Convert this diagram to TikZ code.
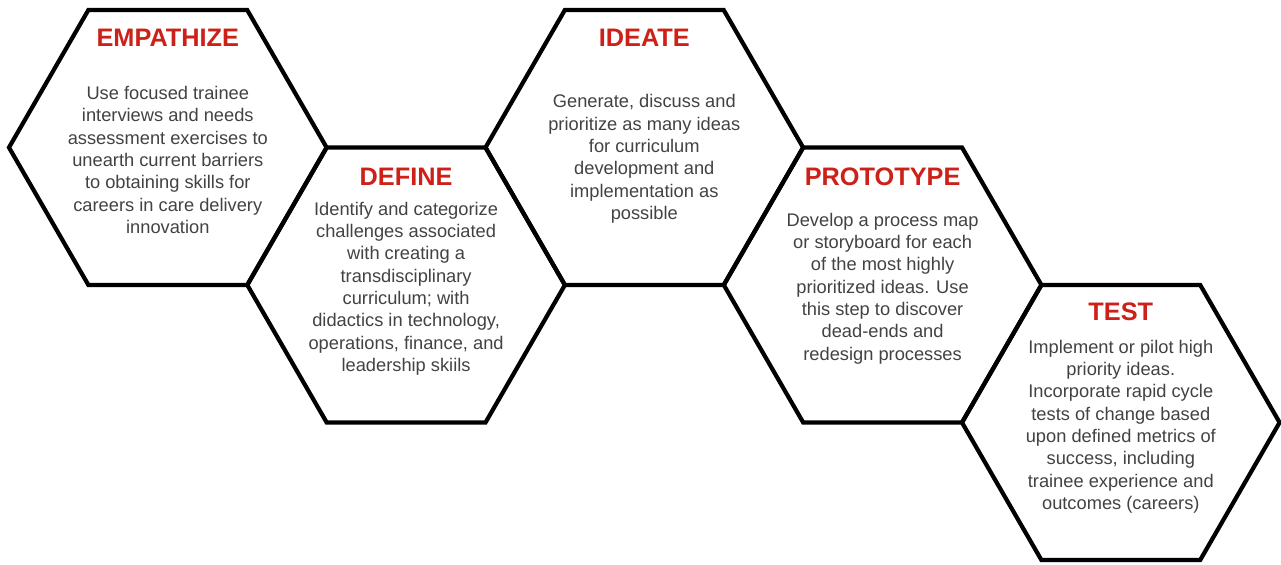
\documentclass[tikz,border=0pt]{standalone}
\usepackage{fontspec}
\setmainfont{Liberation Sans}
\usepackage{xcolor}
\usepackage{tikz}
\usetikzlibrary{shapes.geometric, positioning}
\definecolor{stepred}{RGB}{204,32,24}
\definecolor{bodygray}{RGB}{66,66,66}
\tikzset{
    hexcell/.style={regular polygon, regular polygon sides=6, minimum size=6.352cm, inner sep=0pt, outer sep=0pt, draw=black, line width=2.4pt, line join=miter},
    steptitle/.style={text centered, inner sep=0pt, text=stepred, font=\fontsize{14.4}{16}\selectfont\bfseries},
    stepbody/.style={align=center, inner sep=0pt, text=bodygray, font=\fontsize{10.4}{12.7}\selectfont}
}
\begin{document}
\begin{tikzpicture}
    \useasboundingbox (0,0) rectangle (25.62,11.30);

    % Hexagon cells
    \node[hexcell] (empathize) at (3.356,8.35) {};
    \node[hexcell] (define) at (8.122,5.60) {};
    \node[hexcell] (ideate) at (12.886,8.35) {};
    \node[hexcell] (prototype) at (17.652,5.60) {};
    \node[hexcell] (test) at (22.416,2.85) {};

    % Empathize Stage
    \node[steptitle, yshift=2.19cm] (empathizetitle) at (empathize.center) {EMPATHIZE};
    \node[stepbody, yshift=-0.25cm] (empathizetext) at (empathize.center) {%
        Use focused trainee\\ interviews and needs\\ assessment exercises to\\ unearth current barriers\\ to obtaining skills for\\ careers in care delivery\\ innovation};

    % Define Stage
    \node[steptitle, yshift=2.16cm] (definetitle) at (define.center) {DEFINE};
    \node[stepbody, yshift=-0.07cm] (definetext) at (define.center) {%
        Identify and categorize\\ challenges associated\\ with creating a\\ transdisciplinary\\ curriculum; with\\ didactics in technology,\\ operations, finance, and\\ leadership skiils};

    % Ideate Stage
    \node[steptitle, yshift=2.19cm] (ideatetitle) at (ideate.center) {IDEATE};
    \node[stepbody, yshift=-0.23cm] (ideatetext) at (ideate.center) {%
        Generate, discuss and\\ prioritize as many ideas\\ for curriculum\\ development and\\ implementation as\\ possible};

    % Prototype Stage
    \node[steptitle, yshift=2.16cm] (prototypetitle) at (prototype.center) {PROTOTYPE};
    \node[stepbody, yshift=-0.07cm] (prototypetext) at (prototype.center) {%
        Develop a process map\\ or storyboard for each\\ of the most highly\\ prioritized ideas. Use\\ this step to discover\\ dead-ends and\\ redesign processes};

    % Test Stage
    \node[steptitle, yshift=2.21cm] (testtitle) at (test.center) {TEST};
    \node[stepbody, yshift=-0.08cm] (testtext) at (test.center) {%
        Implement or pilot high\\ priority ideas.\\ Incorporate rapid cycle\\ tests of change based\\ upon defined metrics of\\ success, including\\ trainee experience and\\ outcomes (careers)};
\end{tikzpicture}
\end{document}
